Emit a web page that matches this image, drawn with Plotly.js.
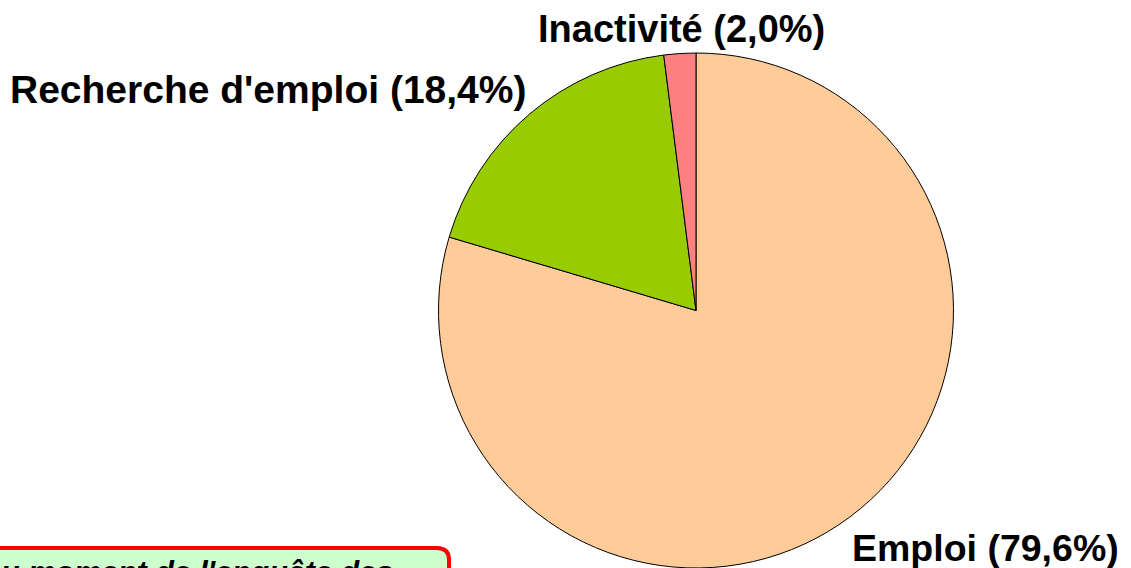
<!DOCTYPE html>
<html><head><meta charset="utf-8">
<script src="https://cdn.plot.ly/plotly-3.0.1.min.js"></script>
<style>html,body{margin:0;padding:0;background:#fff;}#chart{width:1131px;height:568px;}</style>
</head><body><div id="chart"></div>
<script>
const categories = ["Emploi", "Recherche d'emploi", "Inactivité"];
const values = [79.6, 18.4, 2.0];
const valueLabels = ["79,6%", "18,4%", "2,0%"];
const colors = ["#FFCC99", "#99CC00", "#FF8080"];
const noteText = "Au moment de l'enquête des";

const W = 1131, H = 568;
const px = x => x / W, py = y => 1 - y / H;

const labelPos = [
  {x: 1121, y: 548, xanchor: "right", size: 37.5},
  {x: 8, y: 89, xanchor: "left", size: 39},
  {x: 681, y: 29, xanchor: "center", size: 38}
];

const annotations = categories.map((c, i) => ({
  text: "<b>" + c + " (" + valueLabels[i] + ")</b>",
  x: px(labelPos[i].x), y: py(labelPos[i].y), xref: "paper", yref: "paper",
  xanchor: labelPos[i].xanchor, yanchor: "middle", showarrow: false,
  font: {family: "Liberation Sans, Arial, sans-serif", size: labelPos[i].size, color: "#000"}
}));
annotations.push({
  text: "<b><i>" + noteText + "</i></b>",
  x: px(-24), y: py(553), xref: "paper", yref: "paper",
  xanchor: "left", yanchor: "top", showarrow: false,
  font: {family: "Liberation Sans, Arial, sans-serif", size: 30.5, color: "#000"}
});

const boxPath = "M " + px(-10) + "," + py(548) + " L " + px(437) + "," + py(548) +
  " Q " + px(449) + "," + py(548) + " " + px(449) + "," + py(560) +
  " L " + px(449) + "," + py(610) + " L " + px(-10) + "," + py(610) + " Z";

const data = [{
  type: "pie",
  labels: categories,
  values: values,
  sort: false,
  direction: "clockwise",
  rotation: 0,
  textinfo: "none",
  hoverinfo: "label+percent",
  marker: {colors: colors, line: {color: "#000", width: 1}},
  domain: {x: [px(696 - 258), px(696 + 258)], y: [0, py(311 - 258)]},
  showlegend: false
}];

const layout = {
  width: W, height: H,
  margin: {l: 0, r: 0, t: 0, b: 0},
  paper_bgcolor: "#fff",
  showlegend: false,
  shapes: [{type: "path", path: boxPath, xref: "paper", yref: "paper",
    fillcolor: "#CCFFCC", line: {color: "#FF0000", width: 4}, layer: "below"}],
  annotations: annotations
};
Plotly.newPlot("chart", data, layout, {displayModeBar: false, staticPlot: true});
</script></body></html>
